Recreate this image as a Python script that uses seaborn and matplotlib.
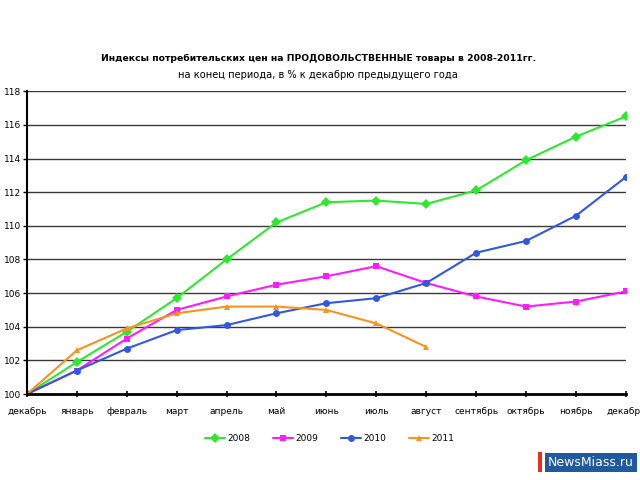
import pandas as pd
import matplotlib.pyplot as plt
import seaborn as sns

sns.set_theme(style="white")
plt.rcParams["font.family"] = ["DejaVu Sans"]
plt.rcParams["text.color"] = "black"
plt.rcParams["xtick.color"] = "black"
plt.rcParams["ytick.color"] = "black"

months = ["декабрь", "январь", "февраль", "март", "апрель", "май", "июнь",
          "июль", "август", "сентябрь", "октябрь", "ноябрь", "декабрь"]

y2008 = [100, 101.9, 103.7, 105.7, 108.0, 110.2, 111.4, 111.5, 111.3, 112.1, 113.9, 115.3, 116.5]
y2009 = [100, 101.4, 103.3, 105.0, 105.8, 106.5, 107.0, 107.6, 106.6, 105.8, 105.2, 105.5, 106.1]
y2010 = [100, 101.4, 102.7, 103.8, 104.1, 104.8, 105.4, 105.7, 106.6, 108.4, 109.1, 110.6, 112.9]
y2011 = [100, 102.6, 103.9, 104.8, 105.2, 105.2, 105.0, 104.2, 102.8]

years = ["2008", "2009", "2010", "2011"]
series = [y2008, y2009, y2010, y2011]

rows = []
for year, vals in zip(years, series):
    for i, v in enumerate(vals):
        rows.append({"pos": i, "value": v, "year": year})
df = pd.DataFrame(rows)

palette = {"2008": "#2ee82e", "2009": "#ff1aff", "2010": "#3158e0", "2011": "#f7941d"}
markers = {"2008": "D", "2009": "s", "2010": "o", "2011": "^"}

fig = plt.figure(figsize=(6.4, 4.8), dpi=100)
ax = fig.add_axes([0.042, 0.179, 0.936, 0.631])

# горизонтальная сетка
for y in range(102, 119, 2):
    ax.axhline(y, color="#3a3a3a", lw=1.0, zorder=0)

sns.lineplot(data=df, x="pos", y="value", hue="year", style="year",
             palette=palette, markers=markers, dashes=False, markersize=5,
             markeredgewidth=0, linewidth=1.5, ax=ax, legend=False)

ax.set_xlim(0, 12)
ax.set_ylim(100, 118)
ax.set_xticks(range(13))
ax.set_xticklabels(months, fontsize=6.5)
ax.set_yticks(range(100, 119, 2))
ax.tick_params(axis="y", labelsize=6.5, length=3, width=1, direction="out", pad=1, left=True)
ax.tick_params(axis="x", length=5, width=1.2, direction="inout", pad=7, bottom=True)
ax.set_xlabel("")
ax.set_ylabel("")
for side in ["top", "right"]:
    ax.spines[side].set_visible(False)
ax.spines["left"].set_linewidth(1.5)
ax.spines["bottom"].set_linewidth(2)
ax.spines["left"].set_color("black")
ax.spines["bottom"].set_color("black")

fig.text(0.497, 0.879, "Индексы потребительских цен на ПРОДОВОЛЬСТВЕННЫЕ товары в 2008-2011гг.",
         ha="center", va="center", fontsize=6.7, fontweight="bold")
fig.text(0.497, 0.843, "на конец периода, в % к декабрю предыдущего года",
         ha="center", va="center", fontsize=7.1)

handles = [plt.Line2D([], [], color=palette[y], marker=markers[y], markersize=5,
                      markeredgewidth=0, lw=1.5) for y in years]
fig.legend(handles, years, loc="center", bbox_to_anchor=(0.515, 0.087), ncol=4,
           frameon=False, fontsize=6.5, handlelength=2.2, columnspacing=2.5, handletextpad=0.3)

# водяной знак
fig.text(0.99, 0.037, "NewsMiass.ru", ha="right", va="center", fontsize=9, color="white",
         bbox=dict(boxstyle="square,pad=0.25", fc="#1f5a9e", ec="none"))
fig.patches.append(plt.Rectangle((0.840, 0.017), 0.007, 0.042, transform=fig.transFigure,
                                 fc="#e8301c", ec="none"))

plt.savefig("out.png", dpi=100)
